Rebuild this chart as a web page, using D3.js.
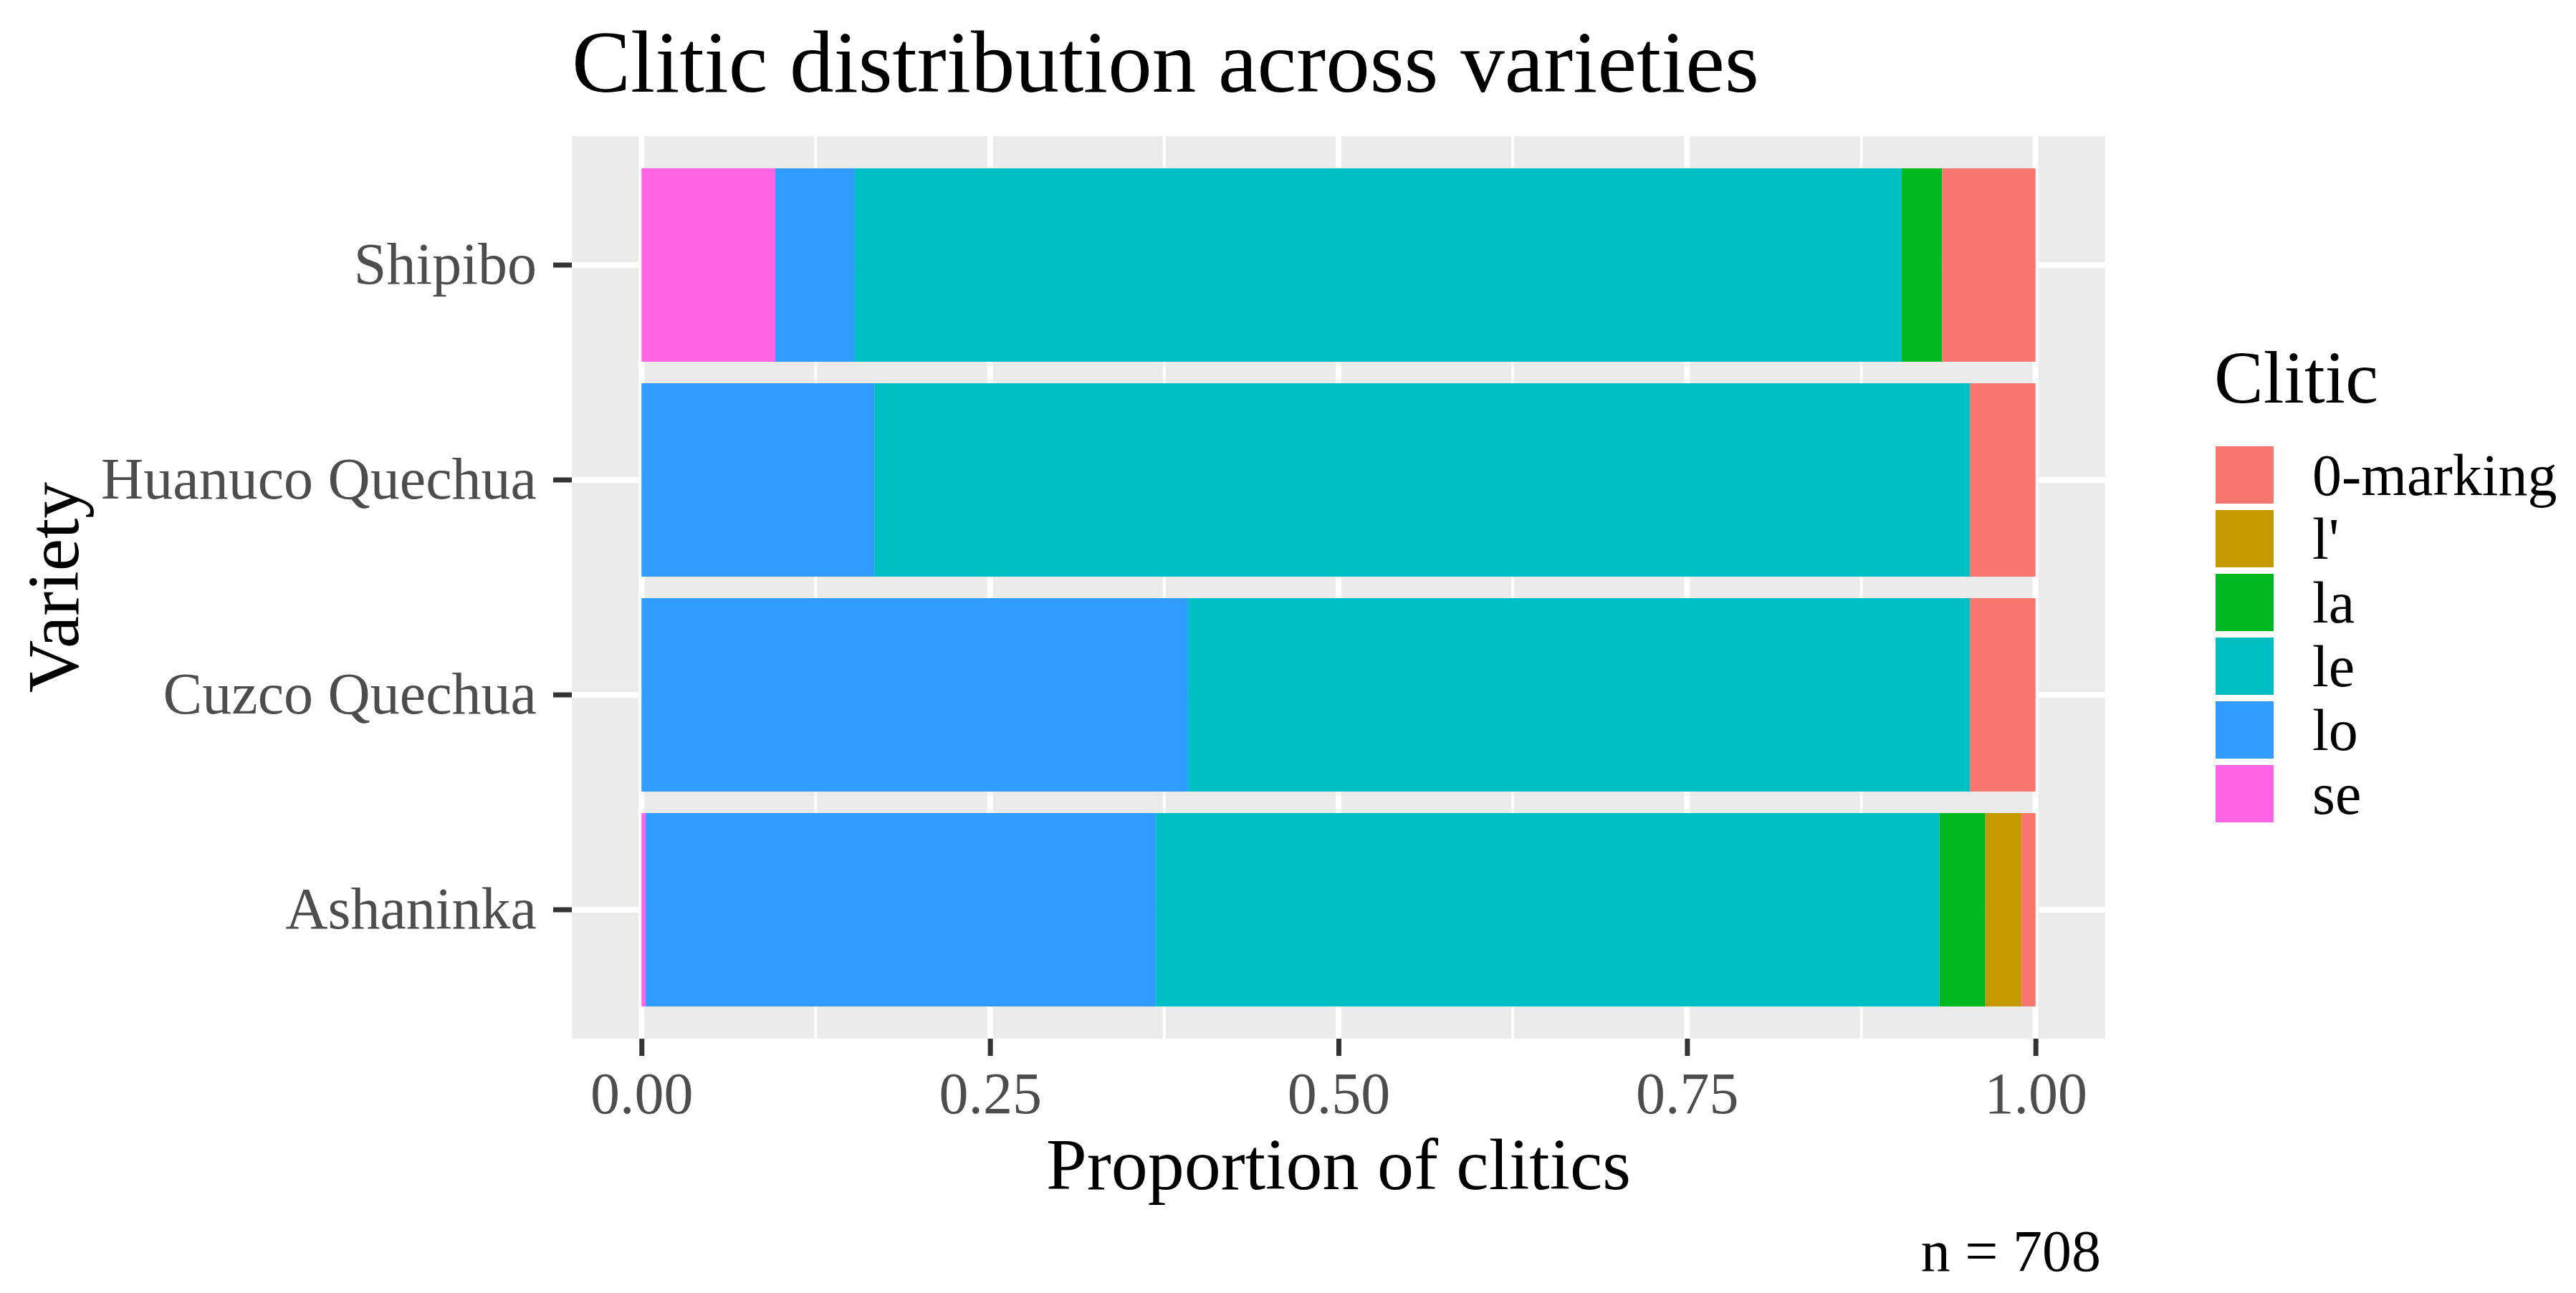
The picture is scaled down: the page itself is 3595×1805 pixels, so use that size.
<!DOCTYPE html>
<html lang="en">
<head>
  <meta charset="utf-8"/>
  <title>Clitic distribution across varieties</title>
  <script src="https://d3js.org/d3.v7.min.js"></script>
  <style>
  body { margin: 0; background: white; }
  text { font-family: "Liberation Serif", "Times New Roman", serif; }
  .panel { fill: #EBEBEB; }
  .grid-major { stroke: white; stroke-width: 8; }
  .grid-minor { stroke: white; stroke-width: 4; }
  .axis .domain { display: none; }
  .axis line { stroke: #333333; stroke-width: 7; }
  .axis text { fill: #4D4D4D; font-size: 82px; font-family: "Liberation Serif", "Times New Roman", serif; }
  </style>
</head>
<body>
<svg id="chart" width="3595" height="1805"></svg>
<script>
  // data (proportions per variety)
  const varieties = ["Shipibo", "Huanuco Quechua", "Cuzco Quechua", "Ashaninka"];
  const clitics = ["0-marking", "l'", "la", "le", "lo", "se"];
  const clitic_colors = ["#F8766D", "#C49A00", "#00B81F", "#00BFC4", "#319CFF", "#FF64E6"];
  const zero_marking = [0.067, 0.047, 0.047, 0.010];
  const l_apos = [0.000, 0.000, 0.000, 0.026];
  const la = [0.029, 0.000, 0.000, 0.033];
  const le = [0.751, 0.786, 0.561, 0.562];
  const lo = [0.057, 0.167, 0.392, 0.366];
  const se = [0.096, 0.000, 0.000, 0.003];
  const x_ticks = [0, 0.25, 0.5, 0.75, 1];
  const n_total = 708;

  const series = {"0-marking": zero_marking, "l'": l_apos, "la": la, "le": le, "lo": lo, "se": se};
  const rows = varieties.map((v, i) => {
    let r = {variety: v};
    clitics.forEach(c => r[c] = series[c][i]);
    return r;
  });

  const svg = d3.select("#chart");
  const p_left = 798, p_right = 2938, p_top = 190, p_bottom = 1450;

  const x = d3.scaleLinear().domain([-0.05, 1.05]).range([p_left, p_right]);
  const y = d3.scaleBand().domain(varieties).range([p_top, p_bottom])
    .paddingInner(0.1).paddingOuter(0.15);
  const color = d3.scaleOrdinal().domain(clitics).range(clitic_colors);

  // panel + grid
  svg.append("rect").attr("class", "panel")
    .attr("x", p_left).attr("y", p_top)
    .attr("width", p_right - p_left).attr("height", p_bottom - p_top);

  const minor = d3.pairs(x_ticks).map(p => (p[0] + p[1]) / 2);
  svg.selectAll(".grid-minor").data(minor).enter()
    .append("line").attr("class", "grid-minor")
    .attr("x1", d => x(d)).attr("x2", d => x(d))
    .attr("y1", p_top).attr("y2", p_bottom);
  svg.selectAll(".grid-x").data(x_ticks).enter()
    .append("line").attr("class", "grid-major grid-x")
    .attr("x1", d => x(d)).attr("x2", d => x(d))
    .attr("y1", p_top).attr("y2", p_bottom);
  svg.selectAll(".grid-y").data(varieties).enter()
    .append("line").attr("class", "grid-major grid-y")
    .attr("x1", p_left).attr("x2", p_right)
    .attr("y1", d => y(d) + y.bandwidth() / 2)
    .attr("y2", d => y(d) + y.bandwidth() / 2);

  // stacked bars, first level ends up on the right like ggplot
  const stack = d3.stack().keys(clitics.slice().reverse());
  const layers = stack(rows);
  svg.append("g").selectAll("g").data(layers).enter()
    .append("g")
    .attr("fill", d => color(d.key))
    .selectAll("rect").data(d => d).enter()
    .append("rect")
    .attr("x", d => x(d[0]))
    .attr("width", d => x(d[1]) - x(d[0]))
    .attr("y", d => y(d.data.variety))
    .attr("height", y.bandwidth());

  // axes
  svg.append("g").attr("class", "axis")
    .attr("transform", "translate(0," + p_bottom + ")")
    .call(d3.axisBottom(x).tickValues(x_ticks).tickFormat(d3.format(".2f"))
      .tickSize(24).tickPadding(22));
  svg.append("g").attr("class", "axis")
    .attr("transform", "translate(" + p_left + ",0)")
    .call(d3.axisLeft(y).tickSize(26).tickPadding(23));
  svg.selectAll(".axis text").attr("font-size", null).attr("font-family", null);

  // titles
  svg.append("text").attr("x", p_left).attr("y", 128)
    .style("font-size", "123px").text("Clitic distribution across varieties");
  svg.append("text").attr("x", (p_left + p_right) / 2).attr("y", 1660)
    .attr("text-anchor", "middle").style("font-size", "102px")
    .text("Proportion of clitics");
  svg.append("text")
    .attr("transform", "translate(109," + (p_top + p_bottom) / 2 + ") rotate(-90)")
    .attr("text-anchor", "middle").style("font-size", "102px")
    .text("Variety");
  svg.append("text").attr("x", 2932).attr("y", 1774)
    .attr("text-anchor", "end").style("font-size", "82px")
    .text("n = " + n_total);

  // legend
  const legend = svg.append("g").attr("transform", "translate(3090,0)");
  legend.append("text").attr("x", 0).attr("y", 562)
    .style("font-size", "103px").text("Clitic");
  const item = legend.selectAll(".item").data(clitics).enter()
    .append("g").attr("class", "item")
    .attr("transform", (d, i) => "translate(0," + (623 + i * 89) + ")");
  item.append("rect").attr("x", 2).attr("width", 81).attr("height", 80)
    .attr("fill", d => color(d));
  item.append("text").attr("x", 137).attr("y", 40 + 28)
    .style("font-size", "82px").text(d => d);
</script>
</body>
</html>
